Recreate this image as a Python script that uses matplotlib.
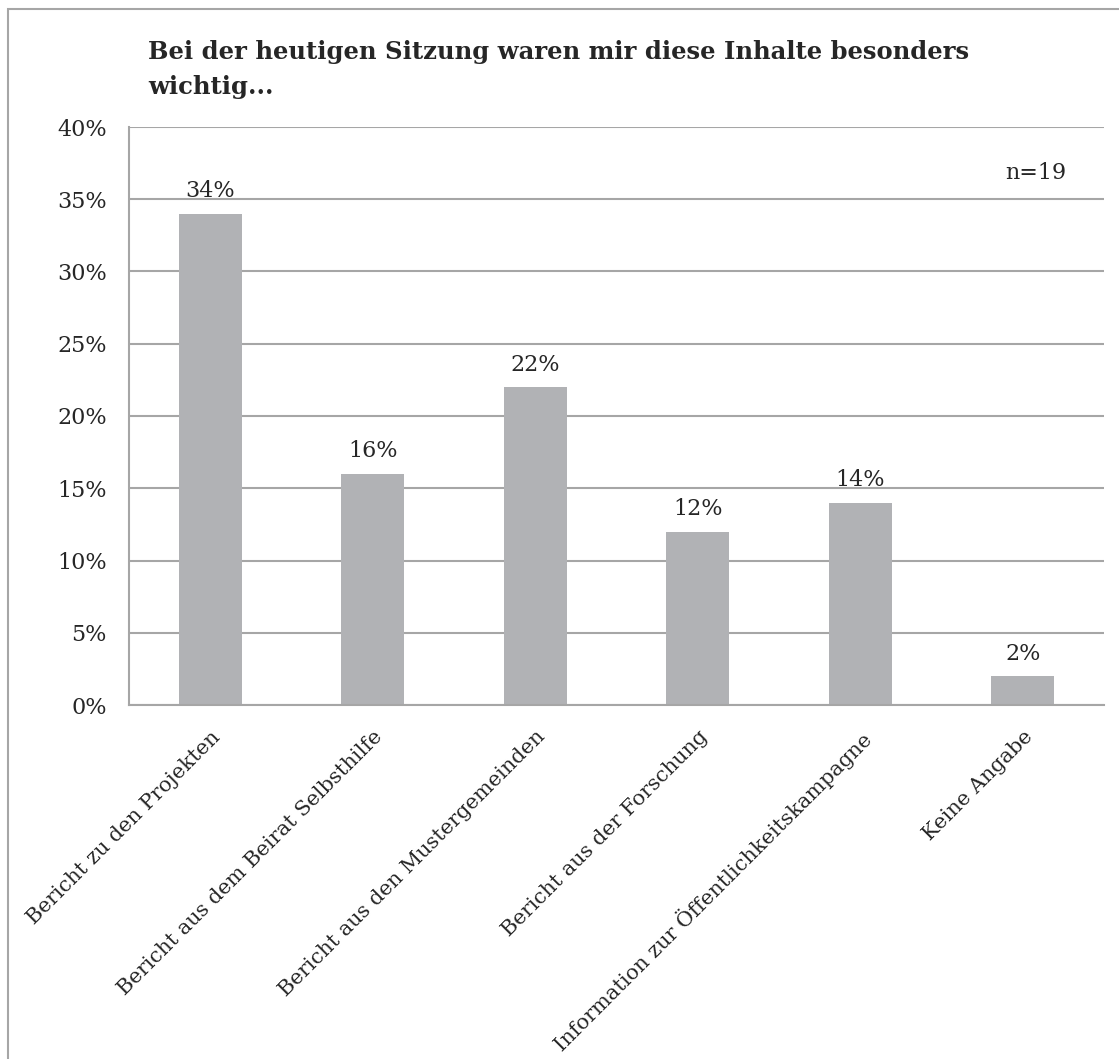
import matplotlib.pyplot as plt
import matplotlib.patches as mpatches
from matplotlib.ticker import FuncFormatter, MultipleLocator

categories = ['Bericht zu den Projekten',
              'Bericht aus dem Beirat Selbsthilfe',
              'Bericht aus den Mustergemeinden',
              'Bericht aus der Forschung',
              'Information zur Öffentlichkeitskampagne',
              'Keine Angabe']
values = [34, 16, 22, 12, 14, 2]
title = 'Bei der heutigen Sitzung waren mir diese Inhalte besonders\nwichtig...'
note = 'n=19'

plt.rcParams['font.family'] = ['DejaVu Serif']
grey = '#a6a6a6'
text_col = '#262626'

fig = plt.figure(figsize=(11.19, 10.59), dpi=100)
ax = fig.add_axes([129 / 1119, 1 - 705 / 1059, (1104 - 129) / 1119, (705 - 127) / 1059])

# outer frame of the chart area
fig.patches.append(mpatches.Rectangle((8 / 1119, -0.01), 1.1, 1 - 9 / 1059 + 0.01,
                                      transform=fig.transFigure, fill=False,
                                      edgecolor=grey, linewidth=1.5))

x = range(len(categories))
ax.bar(x, values, width=0.39, color='#b1b2b5', zorder=2)
for xi, v in zip(x, values):
    ax.text(xi, v + 0.8, f'{v}%', ha='center', va='bottom', fontsize=16, color=text_col)

ax.set_xlim(-0.5, len(categories) - 0.5)
ax.set_ylim(0, 40)
ax.yaxis.set_major_locator(MultipleLocator(5))
ax.yaxis.set_major_formatter(FuncFormatter(lambda v, p: f'{v:.0f}%'))
ax.grid(axis='y', color=grey, linewidth=1.5, zorder=0)
ax.set_axisbelow(True)

for s in ['top', 'right']:
    ax.spines[s].set_visible(False)
for s in ['left', 'bottom']:
    ax.spines[s].set_color(grey)
    ax.spines[s].set_linewidth(1.5)

ax.tick_params(axis='y', length=0, pad=16, labelsize=16, labelcolor=text_col)
ax.tick_params(axis='x', length=0, pad=16, labelsize=15, labelcolor=text_col)
ax.set_xticks(list(x))
ax.set_xticklabels(categories, rotation=45, ha='right', rotation_mode='anchor')

ax.text(5.08, 36.8, note, ha='center', va='center', fontsize=16, color=text_col)

fig.text(148 / 1119, 1 - 40 / 1059, title, ha='left', va='top', fontsize=17.5,
         fontweight='bold', color=text_col, linespacing=1.6)

fig.savefig('out.png', dpi=100)
